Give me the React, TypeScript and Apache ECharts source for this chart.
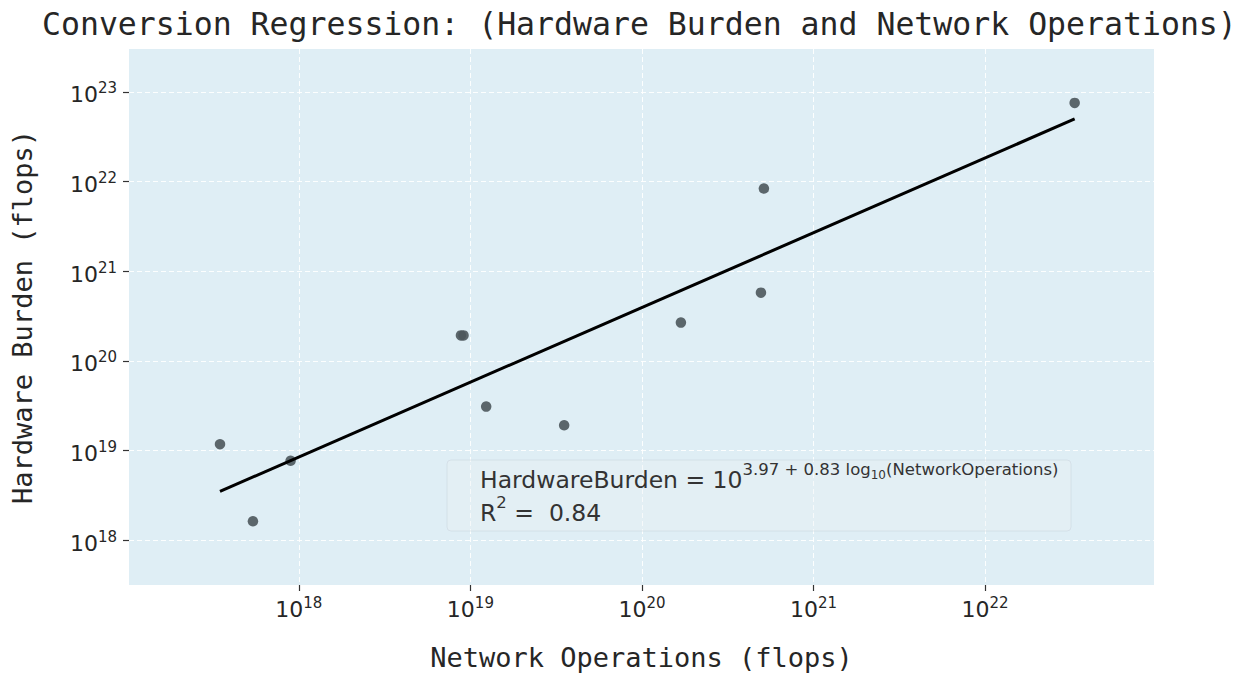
import React, { useEffect, useRef } from 'react';
import * as echarts from 'echarts';

const TITLE = 'Conversion Regression: (Hardware Burden and Network Operations)';
const X_AXIS_NAME = 'Network Operations (flops)';
const Y_AXIS_NAME = 'Hardware Burden (flops)';

// scatter points (flops)
const networkOperations = [3.47e17, 5.4e17, 8.95e17, 8.81e18, 9.12e18, 1.236e19, 3.52e19, 1.687e20, 4.94e20, 5.14e20, 3.33e22];
const hardwareBurden = [1.18e19, 1.63e18, 7.71e18, 1.93e20, 1.93e20, 3.1e19, 1.92e19, 2.68e20, 5.78e20, 8.38e21, 7.55e22];

// regression line end points (flops)
const fitNetworkOperations = [3.47e17, 3.33e22];
const fitHardwareBurden = [3.52e18, 5.0e22];

const xTickExponents = [18, 19, 20, 21, 22];
const yTickExponents = [18, 19, 20, 21, 22, 23];

const xRange = [1.023e17, 9.66e22];
const yRange = [3.177e17, 3.013e23];

const fitIntercept = '3.97';
const fitSlope = '0.83';
const rSquared = '0.84';

const lg = (v: number) => Math.log10(v);

const TEXT = '#262626';
const MONO = 'DejaVu Sans Mono';
const SANS = 'DejaVu Sans';

const tickRich = {
  b: { fontFamily: SANS, fontSize: 22, lineHeight: 22, padding: [3, 0, 3, 0], verticalAlign: 'top', color: TEXT },
  s: { fontFamily: SANS, fontSize: 15, lineHeight: 16, verticalAlign: 'top', color: TEXT },
};

const gridLine = { show: true, lineStyle: { color: 'rgba(255,255,255,0.9)', type: [5, 3], width: 1 } };

function buildOption() {
  const scatter = networkOperations.map((x, i) => [lg(x), lg(hardwareBurden[i])]);
  const fit = fitNetworkOperations.map((x, i) => [lg(x), lg(fitHardwareBurden[i])]);
  const annRich = {
    b: { fontFamily: SANS, fontSize: 23.5, lineHeight: 24, padding: [7, 0, 0, 0], verticalAlign: 'top', fill: '#333' },
    s: { fontFamily: SANS, fontSize: 16.5, lineHeight: 18, verticalAlign: 'top', fill: '#333' },
    u: { fontFamily: SANS, fontSize: 12, lineHeight: 13, padding: [8, 0, 0, 0], verticalAlign: 'top', fill: '#333' },
  };
  return {
    animation: false,
    backgroundColor: '#ffffff',
    title: {
      text: TITLE,
      left: 37,
      top: 3,
      textStyle: { fontFamily: MONO, fontSize: 31.5, fontWeight: 'normal', color: TEXT },
    },
    grid: {
      left: 129,
      top: 49,
      width: 1025,
      height: 537,
      show: true,
      backgroundColor: '#dfeef5',
      borderWidth: 0,
    },
    xAxis: {
      type: 'value',
      min: lg(xRange[0]),
      max: lg(xRange[1]),
      name: X_AXIS_NAME,
      nameLocation: 'middle',
      nameGap: 59,
      nameMoveOverlap: false,
      nameTextStyle: { fontFamily: MONO, fontSize: 27, color: TEXT },
      axisLine: { show: false },
      axisTick: { show: true, customValues: xTickExponents, length: 6, lineStyle: { color: '#333', width: 1.2 } },
      axisLabel: {
        customValues: xTickExponents,
        margin: 10,
        formatter: (v: number) => `{b|10}{s|${Math.round(v)}}`,
        rich: tickRich,
      },
      splitLine: gridLine,
    },
    yAxis: {
      type: 'value',
      min: lg(yRange[0]),
      max: lg(yRange[1]),
      name: Y_AXIS_NAME,
      nameLocation: 'middle',
      nameGap: 93,
      nameMoveOverlap: false,
      nameTextStyle: { fontFamily: MONO, fontSize: 27, color: TEXT },
      axisLine: { show: false },
      axisTick: { show: true, customValues: yTickExponents, length: 6, lineStyle: { color: '#333', width: 1.2 } },
      axisLabel: {
        customValues: yTickExponents,
        margin: 12,
        formatter: (v: number) => `{b|10}{s|${Math.round(v)}}`,
        rich: tickRich,
      },
      splitLine: gridLine,
    },
    graphic: [
      {
        type: 'rect',
        shape: { x: 447, y: 460, width: 624, height: 71, r: 4 },
        style: { fill: 'rgba(236,240,243,0.35)', stroke: 'rgba(205,215,224,0.6)', lineWidth: 1 },
        z: 10,
      },
      {
        type: 'text',
        x: 480,
        y: 461,
        z: 11,
        style: {
          text: `{b|HardwareBurden = 10}{s|${fitIntercept} + ${fitSlope} log}{u|10}{s|(NetworkOperations)}`,
          rich: annRich,
          align: 'left',
          verticalAlign: 'top',
        },
      },
      {
        type: 'text',
        x: 480,
        y: 494,
        z: 11,
        style: {
          text: `{b|R}{s|2}{b| =  ${rSquared}}`,
          rich: annRich,
          align: 'left',
          verticalAlign: 'top',
        },
      },
    ],
    series: [
      {
        type: 'scatter',
        data: scatter,
        symbolSize: 10.5,
        itemStyle: { color: '#4c575c', opacity: 0.9 },
        z: 2,
      },
      {
        type: 'line',
        data: fit,
        symbol: 'none',
        lineStyle: { color: '#000', width: 3 },
        z: 3,
      },
    ],
  };
}

export default function App() {
  const ref = useRef<HTMLDivElement>(null);
  useEffect(() => {
    const chart = echarts.init(ref.current!, null, { renderer: 'svg' });
    chart.setOption(buildOption() as any);
    return () => chart.dispose();
  }, []);
  return (
    <div
      ref={ref}
      style={{ position: 'fixed', left: 0, top: 0, width: 1250, height: 676, background: '#fff' }}
    />
  );
}
